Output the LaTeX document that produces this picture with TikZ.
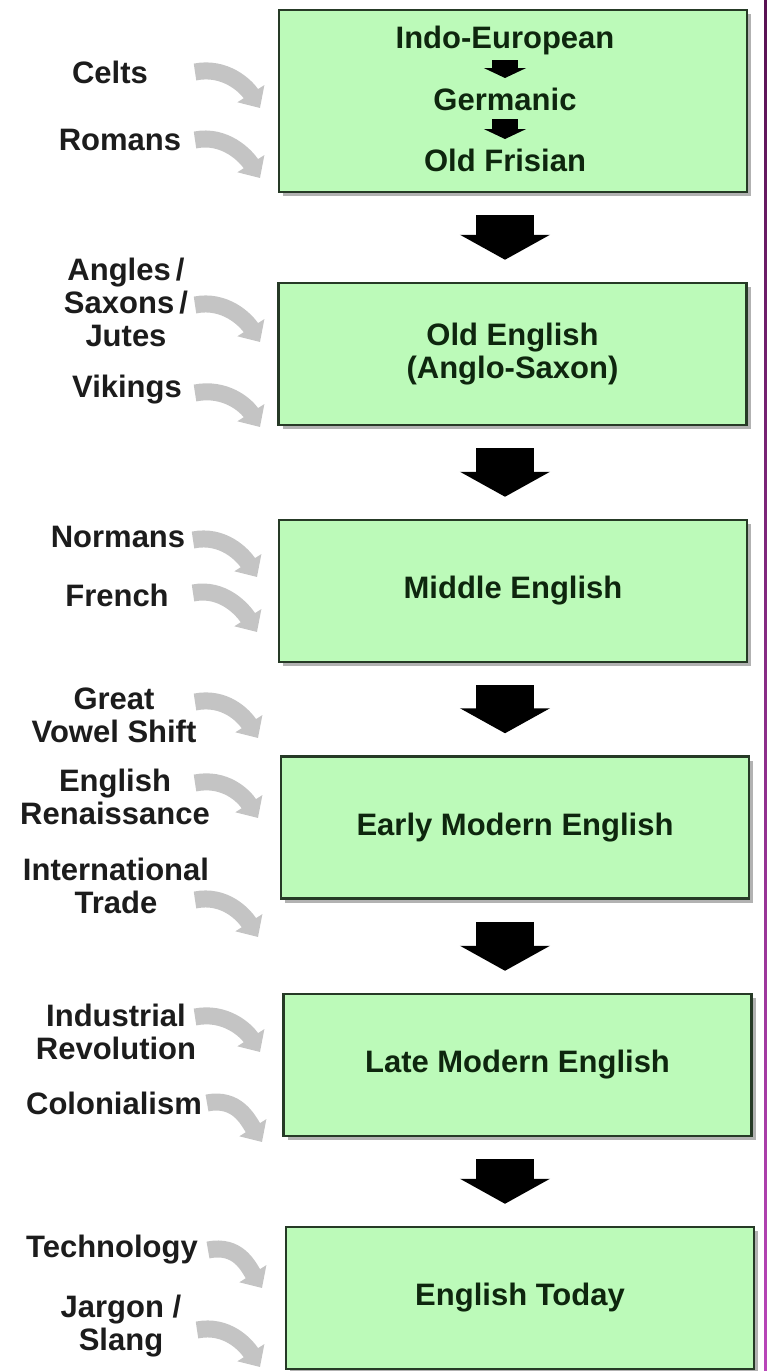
\documentclass[tikz,border=0pt]{standalone}
\usepackage{fontspec}
\setmainfont{Liberation Sans}
\usepackage{xcolor}
\usetikzlibrary{arrows.meta,positioning,shadows}

\definecolor{boxgreen}{RGB}{188,250,185}
\definecolor{boxline}{RGB}{38,58,38}
\definecolor{boxtext}{RGB}{14,38,14}
\definecolor{labeltext}{RGB}{28,28,28}
\definecolor{feedgray}{RGB}{196,196,196}
\definecolor{edgetop}{RGB}{88,18,82}
\definecolor{edgebot}{RGB}{185,70,185}

\newcommand{\bigtext}{\fontsize{31}{33}\selectfont\bfseries}

\begin{document}
\begin{tikzpicture}[
    x=1pt, y=-1pt,
    stage/.style={rectangle, draw=boxline, line width=2.5pt, fill=boxgreen, minimum width=468pt, minimum height=142pt, align=center, text=boxtext, font=\bigtext, drop shadow={shadow xshift=4pt, shadow yshift=-4pt, fill=black, opacity=0.3}},
    stagetext/.style={inner sep=0pt, text=boxtext, font=\bigtext},
    influence/.style={align=center, inner sep=0pt, text=labeltext, font=\bigtext},
    bigarrow/.style={line width=58pt, -{Triangle[width=89pt,length=25pt]}, shorten <=22pt, shorten >=22pt},
    smallarrow/.style={line width=26pt, -{Triangle[width=42pt,length=10pt]}, shorten <=20pt, shorten >=21pt},
    feed/.style={feedgray, line width=17pt, -{Triangle[width=31pt,length=17pt]}}
]
\useasboundingbox (0,0) rectangle (767,1371);
\clip (0,0) rectangle (767,1371);

% Stages
\node[stage, minimum height=182pt] (b1) at (513,101) {};
\node[stage] (b2) at (512.5,354) {Old English\\(Anglo-Saxon)};
\node[stage] (b3) at (513,591) {Middle English};
\node[stage] (b4) at (515,827.5) {Early Modern English};
\node[stage] (b5) at (517.5,1065) {Late Modern English};
\node[stage] (b6) at (520,1298) {English Today};

% Roots inside the first stage
\node[stagetext] (ie) at (505,40) {Indo-European};
\node[stagetext] (germ) at (505,99) {Germanic};
\node[stagetext] (fris) at (505,160) {Old Frisian};
\draw[smallarrow] (ie.center) -- (germ.center);
\draw[smallarrow] (germ.center) -- (fris.center);

% Arrows between stages
\coordinate (col) at (505,0);
\draw[bigarrow] (b1.south -| col) -- (b2.north -| col);
\draw[bigarrow] (b2.south -| col) -- (b3.north -| col);
\draw[bigarrow] (b3.south -| col) -- (b4.north -| col);
\draw[bigarrow] (b4.south -| col) -- (b5.north -| col);
\draw[bigarrow] (b5.south -| col) -- (b6.north -| col);

% Influences
\node[influence] (celts) at (110,72) {Celts};
\node[influence] (romans) at (120,140) {Romans};
\node[influence] (angles) at (126,302) {Angles\,/\\Saxons\,/\\Jutes};
\node[influence] (vikings) at (127,390) {Vikings};
\node[influence] (normans) at (118,537) {Normans};
\node[influence] (french) at (117,595) {French};
\node[influence] (vowel) at (114,715) {Great\\Vowel Shift};
\node[influence] (renais) at (115,797) {English\\Renaissance};
\node[influence] (trade) at (116,886) {International\\Trade};
\node[influence] (industry) at (116,1032) {Industrial\\Revolution};
\node[influence] (colony) at (114,1103) {Colonialism};
\node[influence] (tech) at (112,1250) {Technology};
\node[influence] (jargon) at (121,1326) {Jargon /\\Slang};

% Gray influence arrows
\foreach \n/\sx/\sy/\tx/\ty in {celts/195/72/260/108, romans/195/140/260/178, angles/195/305/260/342, vikings/195/393/260/427, normans/193/540/257/577, french/193/593/257/632, vowel/195/702/258/738, renais/195/783/258/818, trade/195/900/258/937, industry/195/1017/260/1052, colony/207/1103/262/1142, tech/208/1250/262/1288, jargon/197/1330/260/1367}{
  \coordinate (\n-a) at (\sx,\sy);
  \coordinate (\n-b) at (\tx,\ty);
  \draw[feed] (\n-a) .. controls +(30,-6) and +(-14,-22) .. (\n-b);
}

% Right edge
\shade[top color=edgetop, bottom color=edgebot] (764,0) rectangle (767,1371);

\end{tikzpicture}
\end{document}
